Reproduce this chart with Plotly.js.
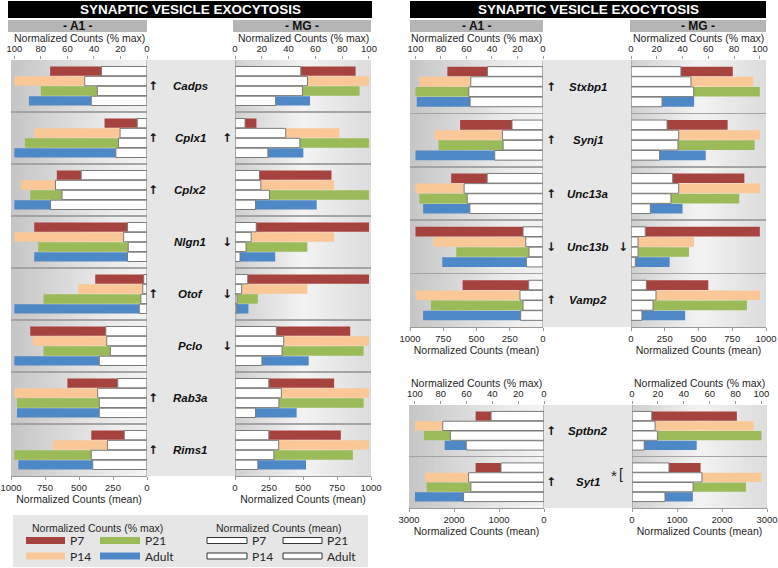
<!DOCTYPE html>
<html>
<head>
<meta charset="utf-8">
<script src="https://cdn.plot.ly/plotly-3.0.1.min.js"></script>
<style>html,body{margin:0;padding:0;background:#fff}#chart{width:778px;height:568px}</style>
</head>
<body>
<div id="chart"></div>
<script>
// ---------------- DATA ----------------
const stages = ['P7', 'P14', 'P21', 'Adult'];
const stageColors = ['#A6433F', '#FAC796', '#9BBB59', '#4F88C6'];

// Left figure
const genesLeft = ['Cadps', 'Cplx1', 'Cplx2', 'Nlgn1', 'Otof', 'Pclo', 'Rab3a', 'Rims1'];
const leftA1Pct = [
  [73, 32, 68, 85, 39, 88, 60, 42],
  [100, 85, 95, 100, 52, 86, 100, 71],
  [80, 92, 88, 82, 78, 78, 98, 100],
  [89, 100, 100, 85, 100, 100, 98, 97]
];
const leftA1Mean = [
  [334, 72, 484, 143, 24, 303, 215, 167],
  [458, 198, 673, 172, 31, 296, 363, 291],
  [365, 210, 625, 138, 45, 270, 351, 410],
  [410, 229, 709, 143, 57, 351, 351, 399]
];
const leftMGPct = [
  [90, 16, 72, 100, 100, 86, 74, 79],
  [100, 78, 74, 74, 54, 100, 100, 100],
  [93, 100, 100, 54, 17, 96, 96, 88],
  [56, 51, 61, 30, 10, 55, 46, 53]
];
const leftMGMean = [
  [484, 74, 180, 156, 94, 304, 249, 249],
  [533, 373, 190, 119, 49, 358, 341, 321],
  [496, 477, 254, 81, 15, 346, 323, 286],
  [299, 242, 151, 37, 12, 198, 151, 168]
];
const leftArrowsA1 = ['↑', '↑', '↑', '', '↑', '', '↑', '↑'];
const leftArrowsMG = ['', '↑', '', '↓', '↓', '↓', '', ''];

// Right figure, top
const genesRightTop = ['Stxbp1', 'Synj1', 'Unc13a', 'Unc13b', 'Vamp2'];
const rtA1Pct = [
  [75, 65, 72, 100, 63],
  [97, 85, 100, 86, 100],
  [100, 82, 97, 68, 88],
  [99, 100, 94, 79, 94]
];
const rtA1Mean = [
  [418, 233, 420, 150, 108],
  [543, 305, 593, 130, 173],
  [558, 300, 570, 105, 150],
  [548, 363, 550, 125, 168]
];
const rtMGPct = [
  [79, 75, 88, 100, 60],
  [95, 100, 100, 49, 100],
  [100, 96, 84, 45, 90],
  [49, 58, 40, 30, 42]
];
const rtMGMean = [
  [370, 267, 309, 106, 114],
  [444, 353, 353, 52, 185],
  [464, 348, 296, 52, 163],
  [230, 212, 143, 32, 81]
];
const rtArrowsA1 = ['↑', '↑', '↑', '↓', '↑'];
const rtArrowsMG = ['', '', '', '↓', ''];

// Right figure, bottom
const genesRightBottom = ['Sptbn2', 'Syt1'];
const rbA1Pct = [[53, 53], [100, 92], [93, 91], [77, 100]];
const rbA1Mean = [[1176, 956], [2250, 1676], [2081, 1625], [1728, 1787]];
const rbMGPct = [[81, 53], [94, 100], [100, 88], [50, 47]];
const rbMGMean = [[440, 822], [513, 1555], [565, 1357], [271, 733]];
const rbArrowsA1 = ['↑', '↑'];
const rbArrowsMG = ['', ''];

const pctTicks = [0, 20, 40, 60, 80, 100];
const meanTicks1000 = [0, 250, 500, 750, 1000];
const meanTicks3000 = [0, 1000, 2000, 3000];

const figTitle = 'SYNAPTIC VESICLE EXOCYTOSIS';
const pctTitle = 'Normalized Counts (% max)';
const meanTitle = 'Normalized Counts (mean)';

// ---------------- LAYOUT HELPERS ----------------
const W = 778, H = 568;
const fx = p => p / W;
const fy = p => 1 - p / H;
const FONT = 'Liberation Sans, Arial, sans-serif';
const axKey = id => id.replace(/^x/, 'xaxis').replace(/^y/, 'yaxis');

const sections = [
  { genes: genesLeft, y: 'y', top: 60, bottom: 476, center: [147, 235], geneX: 190, arrA1X: 153, arrMGX: 227,
    panels: [
      { pAx: 'x', mAx: 'x2', x0: 11, x1: 147, pRange: [102.5, 0], mRange: [1000, 0], pct: leftA1Pct, mean: leftA1Mean, mTicks: meanTicks1000, arrows: leftArrowsA1, side: 'A1' },
      { pAx: 'x3', mAx: 'x4', x0: 235, x1: 371, pRange: [0, 101.5], mRange: [0, 1000], pct: leftMGPct, mean: leftMGMean, mTicks: meanTicks1000, arrows: leftArrowsMG, side: 'MG' }
    ] },
  { genes: genesRightTop, y: 'y2', top: 60, bottom: 327, center: [543, 631], geneX: 588, arrA1X: 551, arrMGX: 623,
    panels: [
      { pAx: 'x5', mAx: 'x6', x0: 410, x1: 543, pRange: [104.3, 0], mRange: [1000, 0], pct: rtA1Pct, mean: rtA1Mean, mTicks: meanTicks1000, arrows: rtArrowsA1, side: 'A1' },
      { pAx: 'x7', mAx: 'x8', x0: 631, x1: 766, pRange: [0, 104.8], mRange: [0, 1000], pct: rtMGPct, mean: rtMGMean, mTicks: meanTicks1000, arrows: rtArrowsMG, side: 'MG' }
    ] },
  { genes: genesRightBottom, y: 'y3', top: 405, bottom: 508, center: [544, 632], geneX: 588, arrA1X: 551, arrMGX: 623,
    panels: [
      { pAx: 'x9', mAx: 'x10', x0: 409, x1: 544, pRange: [104.6, 0], mRange: [3000, 0], pct: rbA1Pct, mean: rbA1Mean, mTicks: meanTicks3000, arrows: rbArrowsA1, side: 'A1' },
      { pAx: 'x11', mAx: 'x12', x0: 632, x1: 767, pRange: [0, 104.3], mRange: [0, 3000], pct: rbMGPct, mean: rbMGMean, mTicks: meanTicks3000, arrows: rbArrowsMG, side: 'MG' }
    ] }
];

const traces = [];
const shapes = [];
const annotations = [];
const layout = {
  width: W, height: H,
  margin: { l: 0, r: 0, t: 0, b: 0, pad: 0 },
  paper_bgcolor: '#ffffff',
  plot_bgcolor: 'rgba(0,0,0,0)',
  showlegend: false,
  barmode: 'group',
  bargap: 0.24,
  bargroupgap: 0.05,
  font: { family: FONT, size: 10.5, color: '#262626' }
};

function hex2rgb(h) { return [1, 3, 5].map(i => parseInt(h.substr(i, 2), 16)); }
function mix(a, b, t) {
  const A = hex2rgb(a), B = hex2rgb(b);
  return 'rgb(' + A.map((v, i) => Math.round(v + (B[i] - v) * t)).join(',') + ')';
}
function gradient(x0, x1, y0, y1, colorAt, n) {
  const w = (x1 - x0) / n;
  for (let i = 0; i < n; i++) {
    shapes.push({ type: 'rect', xref: 'paper', yref: 'paper', layer: 'below',
      x0: fx(x0 + i * w), x1: fx(Math.min(x1, x0 + (i + 1) * w + 0.6)), y0: fy(y1), y1: fy(y0),
      fillcolor: colorAt((i + 0.5) / n), line: { width: 0 } });
  }
}
const a1Color = t => t < 0.75 ? mix('#c5c5c5', '#ececec', t / 0.75) : mix('#ececec', '#f3f3f3', (t - 0.75) / 0.25);
const mgColor = t => t < 0.5 ? mix('#d0d0d0', '#f3f3f3', t / 0.5) : mix('#f3f3f3', '#dcdcdc', (t - 0.5) / 0.5);
const tickFont = { family: FONT, size: 9.5, color: '#262626' };
const titleFont = { family: FONT, size: 10.5, color: '#262626' };

sections.forEach(sec => {
  const n = sec.genes.length;
  const firstX = sec.panels[0].pAx;
  layout[axKey(sec.y)] = {
    domain: [fy(sec.bottom), fy(sec.top)], anchor: firstX,
    type: 'category', categoryorder: 'array', categoryarray: sec.genes,
    range: [n - 0.5, -0.5], tickson: 'boundaries',
    showgrid: true, gridcolor: '#a4a4a4', gridwidth: 1.5,
    showticklabels: false, ticks: '', zeroline: false, showline: false
  };
  // center band
  shapes.push({ type: 'rect', xref: 'paper', yref: 'paper', layer: 'below',
    x0: fx(sec.center[0]), x1: fx(sec.center[1]), y0: fy(sec.bottom), y1: fy(sec.top),
    fillcolor: '#e6e6e6', line: { width: 0 } });

  sec.panels.forEach(p => {
    gradient(p.x0, p.x1, sec.top, sec.bottom, p.side === 'A1' ? a1Color : mgColor, 36);
    layout[axKey(p.pAx)] = {
      domain: [fx(p.x0), fx(p.x1)], anchor: sec.y, side: 'top', range: p.pRange,
      tickvals: pctTicks, ticks: 'outside', ticklen: 3, tickcolor: '#9a9a9a',
      showgrid: false, zeroline: false, showline: false, ticklabeloverflow: 'allow',
      tickfont: tickFont
    };
    // top axis title (placed as text just above the tick labels)
    annotations.push({ xref: 'paper', yref: 'paper', x: fx((p.x0 + p.x1) / 2), y: fy(sec.top - 22),
      text: pctTitle, showarrow: false, font: titleFont, xanchor: 'center', yanchor: 'middle', borderpad: 0 });
    layout[axKey(p.mAx)] = {
      overlaying: p.pAx, anchor: sec.y, side: 'bottom', range: p.mRange,
      tickvals: p.mTicks, ticks: 'outside', ticklen: 3, tickcolor: '#9a9a9a',
      showgrid: false, zeroline: false, showline: true, linecolor: '#9a9a9a', linewidth: 1,
      ticklabeloverflow: 'allow', tickfont: tickFont,
      title: { text: meanTitle, font: titleFont, standoff: 0 }
    };
    // vertical line at zero
    shapes.push({ type: 'line', xref: p.pAx, yref: sec.y + ' domain', x0: 0, x1: 0, y0: 0, y1: 1,
      line: { color: '#8f8f8f', width: 1 } });

    stages.forEach((st, s) => {
      traces.push({ type: 'bar', orientation: 'h', name: st + ' (% max)',
        x: p.pct[s], y: sec.genes, xaxis: p.pAx, yaxis: sec.y,
        marker: { color: stageColors[s], line: { width: 0 } }, hoverinfo: 'x+y' });
    });
    stages.forEach((st, s) => {
      traces.push({ type: 'bar', orientation: 'h', name: st + ' (mean)',
        x: p.mean[s], y: sec.genes, xaxis: p.mAx, yaxis: sec.y,
        marker: { color: '#ffffff', line: { width: 1, color: '#7a7a7a' } }, hoverinfo: 'x+y' });
    });
  });

  // gene labels and arrows
  sec.genes.forEach((g, i) => {
    annotations.push({ xref: 'paper', yref: sec.y, x: fx(sec.geneX), y: g, text: '<b><i>' + g + '</i></b>',
      showarrow: false, font: { family: FONT, size: 11.5, color: '#111' }, xanchor: 'center', yanchor: 'middle' });
    const aA = sec.panels[0].arrows[i], aM = sec.panels[1].arrows[i];
    if (aA) annotations.push({ xref: 'paper', yref: sec.y, x: fx(sec.arrA1X), y: g, text: '<b>' + aA + '</b>',
      showarrow: false, font: { family: 'DejaVu Sans', size: 12, color: '#111' }, xanchor: 'center', yanchor: 'middle' });
    if (aM) annotations.push({ xref: 'paper', yref: sec.y, x: fx(sec.arrMGX), y: g, text: '<b>' + aM + '</b>',
      showarrow: false, font: { family: 'DejaVu Sans', size: 12, color: '#111' }, xanchor: 'center', yanchor: 'middle' });
  });
});

// Significance marker for Syt1 (MG, P7 vs P14)
annotations.push({ xref: 'paper', yref: 'y3', x: fx(619), y: 'Syt1', yshift: 7, text: '*', showarrow: false,
  font: { family: FONT, size: 15, color: '#222' } });
annotations.push({ xref: 'paper', yref: 'y3', x: fx(625), y: 'Syt1', yshift: 8, text: '[', showarrow: false,
  font: { family: FONT, size: 14, color: '#222' } });

// Title bars and headers
function titleBar(x0, x1) {
  shapes.push({ type: 'rect', xref: 'paper', yref: 'paper', x0: fx(x0), x1: fx(x1), y0: fy(18), y1: fy(1),
    fillcolor: '#000', line: { width: 0 } });
  annotations.push({ xref: 'paper', yref: 'paper', x: fx((x0 + x1) / 2), y: fy(9.8), text: '<b>' + figTitle + '</b>',
    showarrow: false, font: { family: FONT, size: 13.5, color: '#fff' }, xanchor: 'center', yanchor: 'middle' });
}
function header(x0, x1, label) {
  shapes.push({ type: 'rect', xref: 'paper', yref: 'paper', x0: fx(x0), x1: fx(x1), y0: fy(32), y1: fy(20),
    fillcolor: '#b5b5b5', line: { width: 0 } });
  annotations.push({ xref: 'paper', yref: 'paper', x: fx((x0 + x1) / 2), y: fy(26.3), text: '<b>- ' + label + ' -</b>',
    showarrow: false, font: { family: FONT, size: 12, color: '#111' }, xanchor: 'center', yanchor: 'middle' });
}
titleBar(8, 372); header(8, 147, 'A1'); header(233, 371, 'MG');
titleBar(410, 766); header(410, 543, 'A1'); header(630, 766, 'MG');

// Legend (drawn from stage names and colours)
shapes.push({ type: 'rect', xref: 'paper', yref: 'paper', x0: fx(13), x1: fx(368), y0: fy(567), y1: fy(515),
  fillcolor: '#e6e6e6', line: { width: 0 } });
annotations.push({ xref: 'paper', yref: 'paper', x: fx(97), y: fy(528), text: pctTitle, showarrow: false,
  font: titleFont, xanchor: 'center', yanchor: 'middle' });
annotations.push({ xref: 'paper', yref: 'paper', x: fx(278), y: fy(528), text: meanTitle, showarrow: false,
  font: titleFont, xanchor: 'center', yanchor: 'middle' });
const legCols = [[26, 65], [100, 140]];
const legColsMean = [[207, 247], [283, 322]];
const legRows = [540.5, 556];
stages.forEach((st, s) => {
  const col = Math.floor(s / 2), row = s % 2;
  const yc = legRows[row];
  shapes.push({ type: 'rect', xref: 'paper', yref: 'paper', x0: fx(legCols[col][0]), x1: fx(legCols[col][1]),
    y0: fy(yc + 3.5), y1: fy(yc - 3.5), fillcolor: stageColors[s], line: { width: 0 } });
  annotations.push({ xref: 'paper', yref: 'paper', x: fx(legCols[col][1] + 3), y: fy(yc), text: st, showarrow: false,
    font: { family: 'Lato, sans-serif', size: 12, color: '#262626' }, xanchor: 'left', yanchor: 'middle' });
  shapes.push({ type: 'rect', xref: 'paper', yref: 'paper', x0: fx(legColsMean[col][0]), x1: fx(legColsMean[col][1]),
    y0: fy(yc + 3), y1: fy(yc - 3), fillcolor: '#fff', line: { width: 1, color: '#333' } });
  annotations.push({ xref: 'paper', yref: 'paper', x: fx(legColsMean[col][1] + 3), y: fy(yc), text: st, showarrow: false,
    font: { family: 'Lato, sans-serif', size: 12, color: '#262626' }, xanchor: 'left', yanchor: 'middle' });
});

layout.shapes = shapes;
layout.annotations = annotations;

Plotly.newPlot('chart', traces, layout, { staticPlot: true, displayModeBar: false });
</script>
</body>
</html>
